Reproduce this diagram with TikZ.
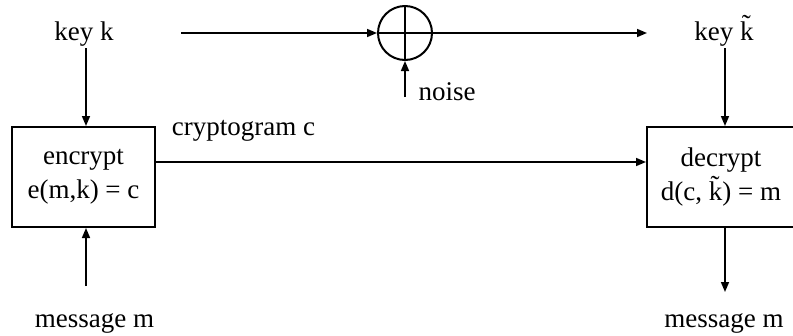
\documentclass[tikz,border=0pt]{standalone}
\usepackage{fontspec}
\setmainfont{Liberation Serif}
\usetikzlibrary{arrows.meta,calc}
\begin{document}
\begin{tikzpicture}[x=1pt,y=-1pt,
  txt/.style={font=\fontsize{27}{34}\selectfont, inner sep=0pt, anchor=base},
  box/.style={draw, line width=2pt, minimum height=100pt, font=\fontsize{27}{34}\selectfont, align=center, inner sep=0pt},
  arr/.style={line width=1.6pt, -{Triangle[length=10pt,width=8pt]}},
  xorstyle/.style={draw, circle, line width=2pt, minimum size=54pt, inner sep=0pt}]
\clip (0,0) rectangle (793,335);
\useasboundingbox (0,0) rectangle (793,335);
% nodes
\node[txt] (keyk) at (84,40) {key k};
\node[txt] (keyk2) at (724,40) {key \~k};
\node[xorstyle] (xor) at (405,33) {};
\draw[line width=1.6pt] (xor.north) -- (xor.south) (xor.west) -- (xor.east);
\node[txt] (noise) at (447,100) {noise};
\node[txt] (cg) at (243.5,135) {cryptogram c};
\node[box, minimum width=143pt] (enc) at (83.5,177) {encrypt\\e(m,k) = c};
\node[box, minimum width=148pt] (dec) at (721,177) {decrypt\\d(c, \~k) = m};
\node[txt] (msg1) at (94.5,327) {message m};
\node[txt] (msg2) at (724,327) {message m};
% free ends
\coordinate (s1) at (181,33);
\coordinate (e1) at (647,33);
\coordinate (n0) at (405,97);
\coordinate (m0) at (86,286);
\coordinate (m1) at (725,292);
% connectors
\draw[arr] ([shift={(2pt,-2pt)}]keyk.south) -- ([xshift=2pt]keyk.south |- enc.north);
\draw[arr] (s1) -- (xor.west);
\draw[arr] (xor.east) -- (e1);
\draw[arr] (n0) -- (xor.south);
\draw[arr] ([shift={(1pt,-2pt)}]keyk2.south) -- ([xshift=1pt]keyk2.south |- dec.north);
\draw[arr] ([yshift=-36pt]enc.north east) -- ([yshift=-36pt]dec.north west);
\draw[arr] (m0) -- (m0 |- enc.south);
\draw[arr] (m1 |- dec.south) -- (m1);
\end{tikzpicture}
\end{document}
